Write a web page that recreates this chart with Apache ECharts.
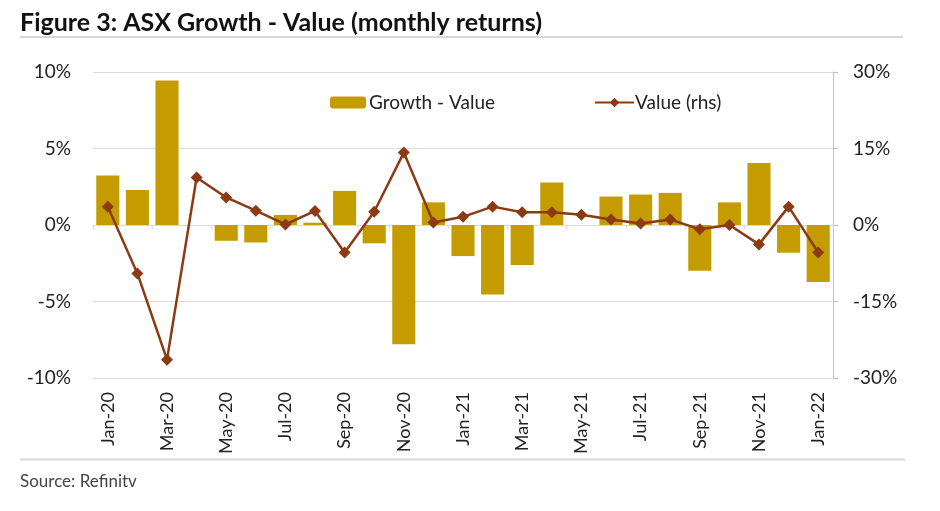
<!DOCTYPE html>
<html>
<head>
<meta charset="utf-8">
<script src="https://cdn.jsdelivr.net/npm/echarts@6/dist/echarts.min.js"></script>
<style>
html,body{margin:0;padding:0;background:#fff;}
#chart{width:940px;height:511px;}
</style>
</head>
<body>
<div id="chart"></div>
<script>
var categories = ['Jan-20','Feb-20','Mar-20','Apr-20','May-20','Jun-20','Jul-20','Aug-20','Sep-20','Oct-20','Nov-20','Dec-20',
  'Jan-21','Feb-21','Mar-21','Apr-21','May-21','Jun-21','Jul-21','Aug-21','Sep-21','Oct-21','Nov-21','Dec-21','Jan-22'];
var growthMinusValue = [3.23, 2.29, 9.45, 0.0, -1.03, -1.14, 0.66, 0.15, 2.23, -1.2, -7.8, 1.48,
  -2.03, -4.54, -2.62, 2.77, 0.0, 1.86, 1.99, 2.1, -2.99, 1.48, 4.06, -1.81, -3.73];
var valueRhs = [3.6, -9.5, -26.4, 9.3, 5.4, 2.8, 0.1, 2.75, -5.4, 2.6, 14.2, 0.5,
  1.6, 3.6, 2.5, 2.5, 2.0, 1.1, 0.3, 1.1, -0.85, 0.0, -3.8, 3.6, -5.4];
var leftTicks = {min: -10, max: 10, interval: 5};
var rightTicks = {min: -30, max: 30, interval: 15};

var FONT = 'Lato';
var chart = echarts.init(document.getElementById('chart'), null, {renderer: 'canvas'});
chart.setOption({
  animation: false,
  textStyle: {fontFamily: FONT},
  grid: {left: 93, right: 107, top: 72, bottom: 133, containLabel: false},
  legend: [
    {data: ['Growth - Value'], left: 325, top: 88, itemWidth: 36, itemHeight: 12, itemGap: 6,
     textStyle: {fontSize: 19, color: '#222', fontFamily: FONT, padding: [0, 0, 0, -2]}},
    {data: ['Value (rhs)'], left: 589, top: 88, itemWidth: 39, itemHeight: 12,
     textStyle: {fontSize: 19, color: '#222', fontFamily: FONT, padding: [0, 0, 0, -4]}}
  ],
  xAxis: [
    {type: 'category', data: categories, position: 'bottom',
     axisLine: {show: false, onZero: false}, axisTick: {show: false},
     axisLabel: {rotate: 90, interval: 1, fontSize: 18, color: '#222', margin: 14, fontFamily: FONT}},
    {type: 'category', data: categories, position: 'top',
     axisLine: {show: true, onZero: true, lineStyle: {color: '#d9d9d9', width: 1}},
     axisTick: {show: true, inside: true, interval: 1, length: 4, lineStyle: {color: '#d9d9d9'}},
     axisLabel: {show: false}, splitLine: {show: false}}
  ],
  yAxis: [
    {type: 'value', min: leftTicks.min, max: leftTicks.max, interval: leftTicks.interval, position: 'left',
     axisLine: {show: false}, axisTick: {show: false},
     axisLabel: {formatter: '{value}%', fontSize: 19, color: '#222', margin: 22, fontFamily: FONT},
     splitLine: {show: true, lineStyle: {color: '#dcdcdc', width: 1}}},
    {type: 'value', min: rightTicks.min, max: rightTicks.max, interval: rightTicks.interval, position: 'right',
     axisLine: {show: true, lineStyle: {color: '#bfbfbf', width: 1}},
     axisTick: {show: true, length: 5, lineStyle: {color: '#bfbfbf'}},
     axisLabel: {formatter: '{value}%', fontSize: 19, color: '#222', margin: 20, fontFamily: FONT},
     splitLine: {show: false}}
  ],
  series: [
    {name: 'Growth - Value', type: 'bar', xAxisIndex: 0, yAxisIndex: 0, data: growthMinusValue,
     barCategoryGap: '22%', itemStyle: {color: '#C59C00'}},
    {name: 'Value (rhs)', type: 'line', xAxisIndex: 0, yAxisIndex: 1, data: valueRhs,
     symbol: 'diamond', symbolSize: 12, lineStyle: {color: '#8B3A14', width: 2.5},
     itemStyle: {color: '#8B3A14'}}
  ],
  graphic: [
    {type: 'text', left: 20, top: 10, style: {text: 'Figure 3: ASX Growth - Value (monthly returns)',
      fontFamily: FONT, fontWeight: 'bold', fontSize: 25, fill: '#111'}},
    {type: 'line', shape: {x1: 20, y1: 37, x2: 903, y2: 37}, style: {stroke: '#d6d6d6', lineWidth: 2}},
    {type: 'line', shape: {x1: 20, y1: 459.5, x2: 905, y2: 459.5}, style: {stroke: '#d6d6d6', lineWidth: 2}},
    {type: 'text', left: 20, top: 473, style: {text: 'Source: Refinitv', fontFamily: FONT, fontSize: 17, fill: '#444'}}
  ]
});
</script>
</body>
</html>
